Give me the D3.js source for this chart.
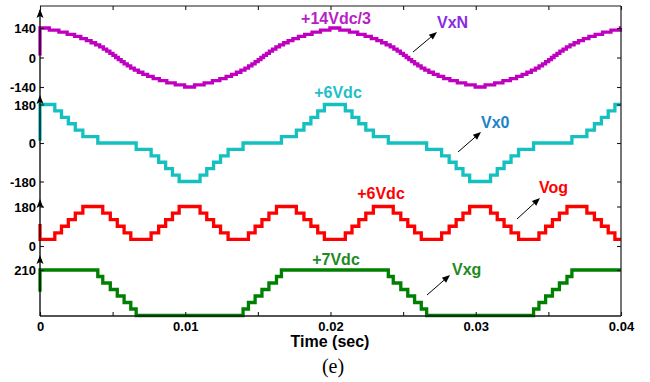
<!DOCTYPE html>
<html><head><meta charset="utf-8">
<script src="https://cdn.jsdelivr.net/npm/d3@7"></script>
<style>body{margin:0;background:#fff}svg{display:block}</style>
</head><body><svg id="c" width="650" height="382"></svg>
<script>
// ---------------- DATA (times in ms, values in volts) ----------------
const vxnTime = [0, 0,
  0.64, 1.30, 1.87, 2.38, 2.81, 3.19, 3.52, 3.83, 4.11, 4.36, 4.59, 4.81, 5.02, 5.21,
  5.39, 5.59, 5.79, 6.01, 6.24, 6.49, 6.77, 7.08, 7.41, 7.79, 8.22, 8.73, 9.31, 9.96,
  10.64, 11.30, 11.87, 12.38, 12.81, 13.19, 13.52, 13.83, 14.11, 14.36, 14.59, 14.81, 15.02, 15.21,
  15.39, 15.59, 15.79, 16.01, 16.24, 16.49, 16.77, 17.08, 17.41, 17.79, 18.22, 18.73, 19.31, 19.96,
  20.64, 21.30, 21.87, 22.38, 22.81, 23.19, 23.52, 23.83, 24.11, 24.36, 24.59, 24.81, 25.02, 25.21,
  25.39, 25.59, 25.79, 26.01, 26.24, 26.49, 26.77, 27.08, 27.41, 27.79, 28.22, 28.73, 29.31, 29.96,
  30.64, 31.30, 31.87, 32.38, 32.81, 33.19, 33.52, 33.83, 34.11, 34.36, 34.59, 34.81, 35.02, 35.21,
  35.39, 35.59, 35.79, 36.01, 36.24, 36.49, 36.77, 37.08, 37.41, 37.79, 38.22, 38.73, 39.31, 39.96,
  40];
const vxnValue = [10, 140,
  130, 120, 110, 100, 90, 80, 70, 60, 50, 40, 30, 20, 10, 0,
  -10, -20, -30, -40, -50, -60, -70, -80, -90, -100, -110, -120, -130, -140,
  -130, -120, -110, -100, -90, -80, -70, -60, -50, -40, -30, -20, -10, 0,
  10, 20, 30, 40, 50, 60, 70, 80, 90, 100, 110, 120, 130, 140,
  130, 120, 110, 100, 90, 80, 70, 60, 50, 40, 30, 20, 10, 0,
  -10, -20, -30, -40, -50, -60, -70, -80, -90, -100, -110, -120, -130, -140,
  -130, -120, -110, -100, -90, -80, -70, -60, -50, -40, -30, -20, -10, 0,
  10, 20, 30, 40, 50, 60, 70, 80, 90, 100, 110, 120, 130, 140,
  140];

const vx0Time = [0, 0,
  1.02, 1.48, 1.95, 2.43, 2.95, 3.98, 6.62, 7.65, 8.17, 8.65, 9.12, 9.58,
  11.02, 11.48, 11.95, 12.43, 12.95, 13.98, 16.62, 17.65, 18.17, 18.65, 19.12, 19.58,
  21.02, 21.48, 21.95, 22.43, 22.95, 23.98, 26.62, 27.65, 28.17, 28.65, 29.12, 29.58,
  31.02, 31.48, 31.95, 32.43, 32.95, 33.98, 36.62, 37.65, 38.17, 38.65, 39.12, 39.58,
  40];
const vx0Value = [10, 180,
  150, 120, 90, 60, 30, 0, -30, -60, -90, -120, -150, -180,
  -150, -120, -90, -60, -30, 0, 30, 60, 90, 120, 150, 180,
  150, 120, 90, 60, 30, 0, -30, -60, -90, -120, -150, -180,
  -150, -120, -90, -60, -30, 0, 30, 60, 90, 120, 150, 180,
  180];

const vogTime = [0, 0,
  1.02, 1.48, 1.95, 2.43, 2.95, 4.32, 4.84, 5.32, 5.79, 6.25,
  7.65, 8.17, 8.65, 9.12, 9.58, 11.02, 11.48, 11.95, 12.43, 12.95,
  14.35, 14.81, 15.28, 15.76, 16.28, 17.65, 18.17, 18.65, 19.12, 19.58,
  21.02, 21.48, 21.95, 22.43, 22.95, 24.32, 24.84, 25.32, 25.79, 26.25,
  27.65, 28.17, 28.65, 29.12, 29.58, 31.02, 31.48, 31.95, 32.43, 32.95,
  34.35, 34.81, 35.28, 35.76, 36.28, 37.65, 38.17, 38.65, 39.12, 39.58,
  40];
const vogValue = [100, 30,
  60, 90, 120, 150, 180, 150, 120, 90, 60, 30,
  60, 90, 120, 150, 180, 150, 120, 90, 60, 30,
  60, 90, 120, 150, 180, 150, 120, 90, 60, 30,
  60, 90, 120, 150, 180, 150, 120, 90, 60, 30,
  60, 90, 120, 150, 180, 150, 120, 90, 60, 30,
  60, 90, 120, 150, 180, 150, 120, 90, 60, 30,
  30];

const vxgTime = [0, 0,
  3.98, 4.32, 4.84, 5.32, 5.79, 6.25, 6.62,
  13.98, 14.35, 14.81, 15.28, 15.76, 16.28, 16.62,
  23.98, 24.32, 24.84, 25.32, 25.79, 26.25, 26.62,
  33.98, 34.35, 34.81, 35.28, 35.76, 36.28, 36.62,
  40];
const vxgValue = [110, 210,
  180, 150, 120, 90, 60, 30, 0,
  30, 60, 90, 120, 150, 180, 210,
  180, 150, 120, 90, 60, 30, 0,
  30, 60, 90, 120, 150, 180, 210,
  210];

const xMajorTicks = [0, 0.01, 0.02, 0.03, 0.04];
const xMajorLabels = ["0", "0.01", "0.02", "0.03", "0.04"];
const xMinorTicks = [0.005, 0.015, 0.025, 0.035];

const vxnTicks = [-140, 0, 140];
const vx0Ticks = [-180, 0, 180];
const vogTicks = [0, 180];
const vxgTicks = [210];

const xTitle = "Time (sec)";
const caption = "(e)";

// ---------------- LAYOUT ----------------
const W = 650, H = 382;
const L = 40, R = 621, T = 6, B = 316;
const FONT = "'Liberation Sans', Arial, sans-serif";

const svg = d3.select("#c");
svg.append("rect").attr("width", W).attr("height", H).attr("fill", "#fff");

const x = d3.scaleLinear().domain([0, 0.04]).range([L, R]);
const yN = d3.scaleLinear().domain([-140, 140]).range([87, 28]);
const y0 = d3.scaleLinear().domain([-180, 180]).range([181.5, 104.5]);
const yG = d3.scaleLinear().domain([0, 180]).range([246, 206.5]);
const yX = d3.scaleLinear().domain([0, 210]).range([315.5, 270]);

const series = [
  {t: vxnTime, v: vxnValue, y: yN, color: "#c000c0"},
  {t: vx0Time, v: vx0Value, y: y0, color: "#14c0c0"},
  {t: vogTime, v: vogValue, y: yG, color: "#ff0000"},
  {t: vxgTime, v: vxgValue, y: yX, color: "#008000"}
];

series.forEach(s => {
  const line = d3.line()
    .x(i => x(s.t[i] / 1000))
    .y(i => s.y(s.v[i]))
    .curve(d3.curveStepAfter);
  svg.append("path")
    .attr("d", line(d3.range(s.t.length)))
    .attr("fill", "none")
    .attr("stroke", s.color)
    .attr("stroke-width", 3.3)
    .attr("stroke-linejoin", "miter");
});

// frame
const frameColor = "#1a1a1a";
svg.append("line").attr("x1", L).attr("x2", R).attr("y1", T).attr("y2", T)
  .attr("stroke", frameColor).attr("stroke-width", 1.2);
svg.append("line").attr("x1", R).attr("x2", R).attr("y1", T).attr("y2", B)
  .attr("stroke", frameColor).attr("stroke-width", 1.2);

const allX = xMajorTicks.concat(xMinorTicks).sort((a, b) => a - b);
const fmtX = d => { const i = xMajorTicks.findIndex(m => Math.abs(m - d) < 1e-9); return i >= 0 ? xMajorLabels[i] : ""; };

function styleAxis(g) {
  g.select(".domain").remove();
  g.attr("font-family", FONT).attr("font-size", 13).attr("font-weight", "bold");
  g.selectAll(".tick line").attr("stroke", frameColor).attr("stroke-width", 1.1);
  g.selectAll(".tick text").attr("fill", "#000");
}

// bottom axis
const gB = svg.append("g").attr("transform", `translate(0,${B})`)
  .call(d3.axisBottom(x).tickValues(allX).tickFormat(fmtX).tickSizeInner(-4).tickSizeOuter(0).tickPadding(6));
styleAxis(gB);
svg.append("line").attr("x1", L).attr("x2", R).attr("y1", B).attr("y2", B)
  .attr("stroke", frameColor).attr("stroke-width", 1.3);

// top ticks
const gT = svg.append("g").attr("transform", `translate(0,${T})`)
  .call(d3.axisTop(x).tickValues(allX).tickFormat("").tickSizeInner(-4).tickSizeOuter(0));
styleAxis(gT);

// left axes per series + right ticks
[[yN, vxnTicks], [y0, vx0Ticks], [yG, vogTicks], [yX, vxgTicks]].forEach(([sc, tv]) => {
  const g = svg.append("g").attr("transform", `translate(${L},0)`)
    .call(d3.axisLeft(sc).tickValues(tv).tickFormat(d => String(d)).tickSizeInner(-4).tickSizeOuter(0).tickPadding(4));
  styleAxis(g);
  g.selectAll(".tick text").attr("dy", "0.36em");
  const gr = svg.append("g").attr("transform", `translate(${R},0)`)
    .call(d3.axisRight(sc).tickValues(tv).tickFormat("").tickSizeInner(-4).tickSizeOuter(0));
  styleAxis(gr);
});

// left vertical axis line
svg.append("line").attr("x1", L).attr("x2", L).attr("y1", B).attr("y2", 10)
  .attr("stroke", "#000").attr("stroke-width", 1.3);

// arrowheads on left axes
const arrowTips = [yN(140) - 19, y0(180) - 9.5, yG(180) - 7.5, yX(210) - 15];
arrowTips.forEach(ty => {
  svg.append("path")
    .attr("d", `M${L},${ty} L${L - 3.5},${ty + 9} L${L},${ty + 7} L${L + 3.5},${ty + 9} Z`)
    .attr("fill", "#000");
});

// axis titles
svg.append("text").attr("x", 330).attr("y", 347).attr("text-anchor", "middle")
  .attr("font-family", FONT).attr("font-weight", "bold").attr("font-size", 16).text(xTitle);
svg.append("text").attr("x", 333).attr("y", 373).attr("text-anchor", "middle")
  .attr("font-family", "'Liberation Serif', 'Times New Roman', serif").attr("font-size", 20).text(caption);

// annotations
const notes = [
  {text: "+14Vdc/3", x: 336, y: 24, anchor: "middle", color: "#b81ec8"},
  {text: "VxN", x: 437, y: 28, anchor: "start", color: "#8a2be2"},
  {text: "+6Vdc", x: 338, y: 98, anchor: "middle", color: "#1ebfc8"},
  {text: "Vx0", x: 481, y: 128, anchor: "start", color: "#1e82c8"},
  {text: "+6Vdc", x: 381, y: 199, anchor: "middle", color: "#ff0000"},
  {text: "Vog", x: 539, y: 193, anchor: "start", color: "#ff0000"},
  {text: "+7Vdc", x: 336, y: 265, anchor: "middle", color: "#1f8a1f"},
  {text: "Vxg", x: 452, y: 275, anchor: "start", color: "#1f8a1f"}
];
notes.forEach(n => {
  svg.append("text").attr("x", n.x).attr("y", n.y).attr("text-anchor", n.anchor)
    .attr("font-family", FONT).attr("font-weight", "bold").attr("font-size", 16)
    .attr("fill", n.color).text(n.text);
});

// pointer arrows
const pointers = [
  [413, 52, 437, 32],
  [458, 152, 481, 132],
  [517, 219, 540, 198],
  [427, 295, 450, 275]
];
pointers.forEach(([x1, y1, x2, y2]) => {
  const a = Math.atan2(y2 - y1, x2 - x1);
  const len = 8, w = 3.2;
  const bx = x2 - len * Math.cos(a), by = y2 - len * Math.sin(a);
  svg.append("line").attr("x1", x1).attr("y1", y1).attr("x2", bx).attr("y2", by)
    .attr("stroke", "#000").attr("stroke-width", 1);
  const px = -Math.sin(a) * w, py = Math.cos(a) * w;
  svg.append("path")
    .attr("d", `M${x2},${y2} L${bx + px},${by + py} L${bx - px},${by - py} Z`)
    .attr("fill", "#000");
});
</script>
</body></html>
